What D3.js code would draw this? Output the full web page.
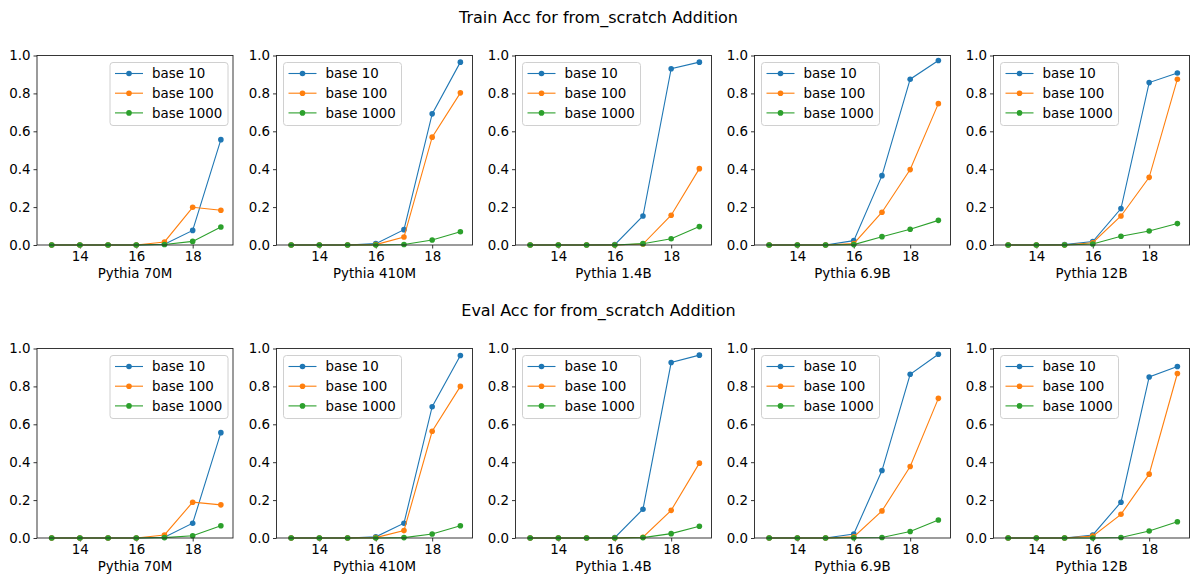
<!DOCTYPE html>
<html>
<head>
<meta charset="utf-8">
<script src="https://cdn.jsdelivr.net/npm/d3@7"></script>
<style>
  body { margin: 0; background: #fff; }
  svg text { font-family: "DejaVu Sans", sans-serif; fill: #000; }
</style>
</head>
<body>
<div id="chart"></div>
<script>
var steps = [13, 14, 15, 16, 17, 18, 19];
var models = ["Pythia 70M", "Pythia 410M", "Pythia 1.4B", "Pythia 6.9B", "Pythia 12B"];
var seriesNames = ["base 10", "base 100", "base 1000"];
var rowTitles = ["Train Acc for from_scratch Addition", "Eval Acc for from_scratch Addition"];
var yTicks = [0, 0.2, 0.4, 0.6, 0.8, 1.0];
var xTicks = [14, 16, 18];

// train acc, per model: base 10, base 100, base 1000
var train70m = [
  [0, 0, 0, 0, 0.004, 0.077, 0.556],
  [0, 0, 0, 0, 0.016, 0.199, 0.183],
  [0, 0, 0, 0, 0.003, 0.019, 0.095]];
var train410m = [
  [0, 0, 0, 0.007, 0.081, 0.692, 0.965],
  [0, 0, 0, 0.002, 0.042, 0.569, 0.803],
  [0, 0, 0, 0, 0.003, 0.026, 0.070]];
var train1_4b = [
  [0, 0, 0, 0.002, 0.153, 0.930, 0.965],
  [0, 0, 0, 0, 0.005, 0.157, 0.403],
  [0, 0, 0, 0, 0.007, 0.033, 0.097]];
var train6_9b = [
  [0, 0, 0, 0.023, 0.366, 0.875, 0.974],
  [0, 0, 0, 0.007, 0.173, 0.398, 0.746],
  [0, 0, 0, 0.002, 0.044, 0.083, 0.130]];
var train12b = [
  [0, 0, 0.002, 0.018, 0.192, 0.857, 0.908],
  [0, 0, 0, 0.012, 0.153, 0.357, 0.875],
  [0, 0, 0, 0.005, 0.046, 0.074, 0.113]];

// eval acc
var eval70m = [
  [0, 0, 0, 0, 0.004, 0.078, 0.556],
  [0, 0, 0, 0, 0.016, 0.189, 0.175],
  [0, 0, 0, 0, 0.002, 0.012, 0.065]];
var eval410m = [
  [0, 0, 0, 0.006, 0.078, 0.693, 0.963],
  [0, 0, 0, 0.002, 0.039, 0.563, 0.800],
  [0, 0, 0, 0, 0.002, 0.021, 0.065]];
var eval1_4b = [
  [0, 0, 0, 0.002, 0.152, 0.926, 0.965],
  [0, 0, 0, 0, 0.004, 0.146, 0.395],
  [0, 0, 0, 0, 0.002, 0.023, 0.062]];
var eval6_9b = [
  [0, 0, 0, 0.021, 0.356, 0.864, 0.970],
  [0, 0, 0, 0.006, 0.143, 0.377, 0.737],
  [0, 0, 0, 0.001, 0.003, 0.034, 0.095]];
var eval12b = [
  [0, 0, 0, 0.016, 0.189, 0.850, 0.905],
  [0, 0, 0, 0.010, 0.125, 0.337, 0.868],
  [0, 0, 0, 0, 0.003, 0.037, 0.086]];

var rows = [
  [train70m, train410m, train1_4b, train6_9b, train12b],
  [eval70m, eval410m, eval1_4b, eval6_9b, eval12b]];

var colors = ["#1f77b4", "#ff7f0e", "#2ca02c"];

var width = 1197, height = 578;
var svg = d3.select("#chart").append("svg")
  .attr("width", width)
  .attr("height", height);

var panelW = 196, panelH = 189.5;
var panelLefts = [37, 276.5, 515.5, 754.5, 993.5];
var panelTops = [55.5, 348.5];
var titleY = [23, 316];

var x = d3.scaleLinear().domain([12.48, 19.43]).range([0, panelW]);
var y = d3.scaleLinear().domain([0, 1]).range([panelH, 0]);

var line = d3.line()
  .x(function(d, i) { return x(steps[i]); })
  .y(function(d) { return y(d); });

rows.forEach(function(rowData, r) {
  svg.append("text")
    .attr("x", width / 2)
    .attr("y", titleY[r])
    .attr("text-anchor", "middle")
    .style("font-size", "16px")
    .text(rowTitles[r]);

  rowData.forEach(function(series, c) {
    var g = svg.append("g")
      .attr("transform", "translate(" + panelLefts[c] + "," + panelTops[r] + ")");

    // axes
    var xAxis = g.append("g")
      .attr("transform", "translate(0," + panelH + ")")
      .call(d3.axisBottom(x).tickValues(xTicks).tickSize(3.5).tickPadding(3).tickFormat(d3.format("d")));
    var yAxis = g.append("g")
      .call(d3.axisLeft(y).tickValues(yTicks).tickSize(3.5).tickPadding(3).tickFormat(d3.format(".1f")));
    [xAxis, yAxis].forEach(function(a) {
      a.select(".domain").remove();
      a.selectAll("line").attr("stroke", "#000").attr("stroke-width", 0.8);
      a.selectAll("text").style("font-size", "13.4px").style("font-family", "DejaVu Sans, sans-serif");
    });

    // lines + markers
    series.forEach(function(vals, s) {
      g.append("path")
        .datum(vals)
        .attr("fill", "none")
        .attr("stroke", colors[s])
        .attr("stroke-width", 1.1)
        .attr("d", line);
      g.selectAll(".pt" + s)
        .data(vals)
        .enter().append("circle")
        .attr("class", "pt" + s)
        .attr("cx", function(d, i) { return x(steps[i]); })
        .attr("cy", function(d) { return y(d); })
        .attr("r", 2.8)
        .attr("fill", colors[s]);
    });

    // frame
    g.append("rect")
      .attr("width", panelW)
      .attr("height", panelH)
      .attr("fill", "none")
      .attr("stroke", "#222")
      .attr("stroke-width", 0.9);

    // x label
    g.append("text")
      .attr("x", panelW / 2)
      .attr("y", panelH + 33)
      .attr("text-anchor", "middle")
      .style("font-size", "13.4px")
      .text(models[c]);

    // legend
    var legW = 118, legH = 63;
    var lx = (c === 0) ? panelW - legW - 5 : 7;
    var lg = g.append("g").attr("transform", "translate(" + lx + ",7)");
    lg.append("rect")
      .attr("width", legW)
      .attr("height", legH)
      .attr("rx", 3)
      .attr("fill", "#fff")
      .attr("fill-opacity", 0.8)
      .attr("stroke", "#d0d0d0")
      .attr("stroke-width", 1);
    seriesNames.forEach(function(name, s) {
      var ly = 11 + s * 19.7;
      lg.append("line")
        .attr("x1", 5).attr("x2", 33)
        .attr("y1", ly).attr("y2", ly)
        .attr("stroke", colors[s])
        .attr("stroke-width", 1.1);
      lg.append("circle")
        .attr("cx", 19).attr("cy", ly).attr("r", 2.8)
        .attr("fill", colors[s]);
      lg.append("text")
        .attr("x", 42).attr("y", ly + 4.8)
        .style("font-size", "13.4px")
        .text(name);
    });
  });
});
</script>
</body>
</html>
